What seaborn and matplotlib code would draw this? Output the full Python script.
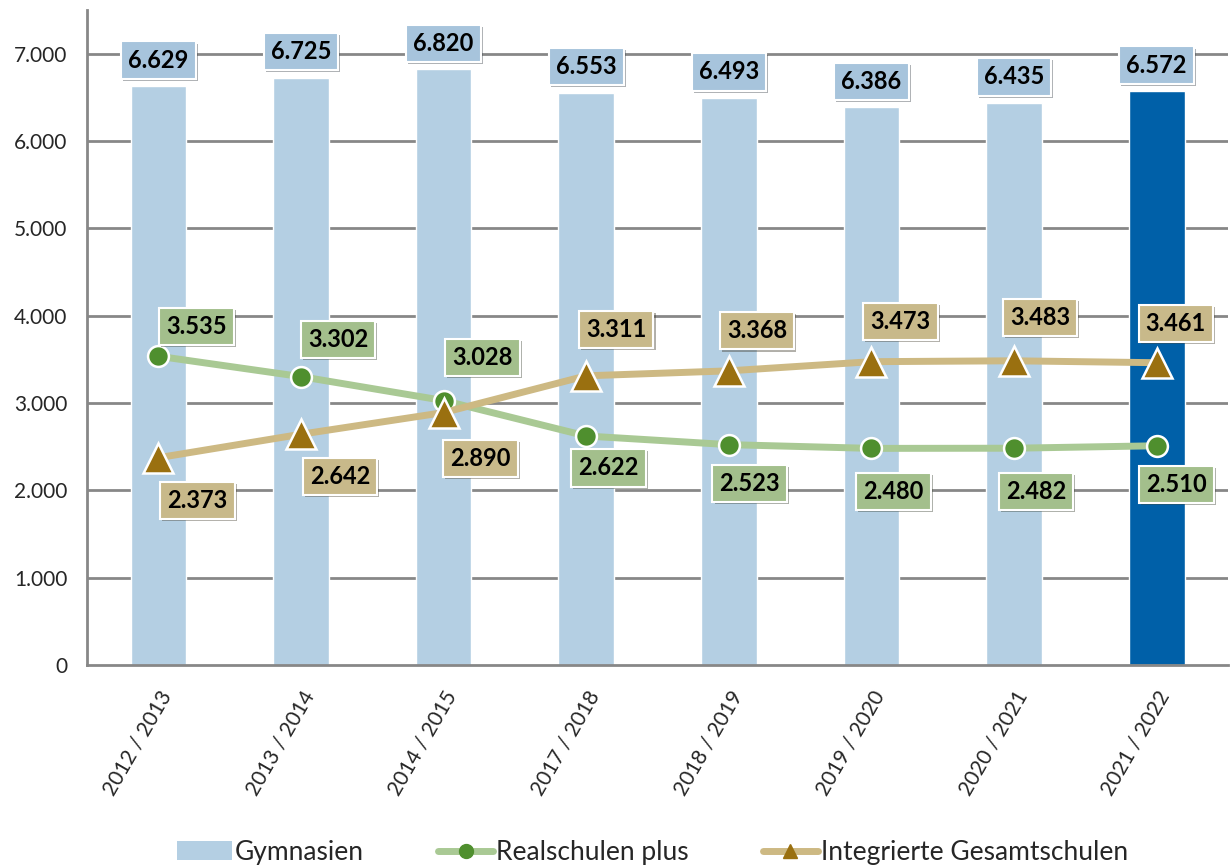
import pandas as pd
import matplotlib.pyplot as plt
import matplotlib.patheffects as pe
from matplotlib.lines import Line2D
from matplotlib.patches import Patch
from matplotlib.ticker import FuncFormatter, MultipleLocator
import seaborn as sns

# data
years = ["2012 / 2013", "2013 / 2014", "2014 / 2015", "2017 / 2018",
         "2018 / 2019", "2019 / 2020", "2020 / 2021", "2021 / 2022"]
gymnasien = [6629, 6725, 6820, 6553, 6493, 6386, 6435, 6572]
realschulen = [3535, 3302, 3028, 2622, 2523, 2480, 2482, 2510]
gesamtschulen = [2373, 2642, 2890, 3311, 3368, 3473, 3483, 3461]

# label offsets in pixels (dx, dy) relative to the point
real_off = [(38, 30), (37, 37), (39, 43), (22, -32), (21, -39), (22, -43), (22, -43), (20, -39)]
ges_off = [(39, -43), (39, -42), (37, -46), (30, 46), (28, 40), (29, 40), (26, 43), (19, 39)]

sns.set_style("white")
plt.rcParams['font.family'] = ['Lato', 'DejaVu Sans']

bar_col = "#b4cfe3"
bar_last = "#0060a8"
real_line, real_mark = "#a9c994", "#4f8f2e"
ges_line, ges_mark = "#cdb983", "#9a7010"
grey = "#878787"

df = pd.DataFrame({"Jahr": years, "Gymnasien": gymnasien,
                   "Realschulen plus": realschulen,
                   "Integrierte Gesamtschulen": gesamtschulen})
df["pos"] = range(len(df))

fig = plt.figure(figsize=(12.31, 8.68), dpi=100)
ax = fig.add_axes([0.0707, 0.2339, 0.9269, 0.7546])

palette = [bar_col] * (len(years) - 1) + [bar_last]
sns.barplot(data=df, x="Jahr", y="Gymnasien", hue="Jahr", palette=palette,
            width=0.39, legend=False, ax=ax, zorder=2, saturation=1)

sns.lineplot(x=df["pos"], y=df["Realschulen plus"], ax=ax, color=real_line,
             linewidth=5, marker="o", markersize=15, markerfacecolor=real_mark,
             markeredgecolor="white", markeredgewidth=1.8, zorder=4)
sns.lineplot(x=df["pos"], y=df["Integrierte Gesamtschulen"], ax=ax, color=ges_line,
             linewidth=5, marker="^", markersize=21, markerfacecolor=ges_mark,
             markeredgecolor="white", markeredgewidth=1.8, zorder=4)

ax.set_xlim(-0.5, len(years) - 0.5)
ax.set_ylim(0, 7500)
ax.yaxis.set_major_locator(MultipleLocator(1000))
ax.yaxis.set_major_formatter(FuncFormatter(lambda v, p: f"{int(v):,}".replace(",", ".")))
ax.set_xlabel("")
ax.set_ylabel("")

for y in range(1000, 8000, 1000):
    ax.axhline(y, color=grey, linewidth=2, zorder=1)

for s in ["top", "right"]:
    ax.spines[s].set_visible(False)
for s in ["left", "bottom"]:
    ax.spines[s].set_color(grey)
    ax.spines[s].set_linewidth(2)

ax.tick_params(axis="y", which="major", length=8, width=2, color=grey,
               direction="out", labelsize=15, pad=6)
ax.set_xticks(range(len(years)))
ax.set_xticklabels(years, rotation=60, ha="right", rotation_mode="anchor", fontsize=15)
ax.tick_params(axis="x", which="major", length=0, pad=16)
ax.set_xticks([i - 0.5 for i in range(len(years) + 1)], minor=True)
ax.tick_params(axis="x", which="minor", length=8, width=2, color=grey, direction="out")


def fmt(v):
    return f"{v:,}".replace(",", ".")


def box_label(x, y, text, dx, dy, face):
    t = ax.annotate(text, (x, y), xytext=(dx, dy), textcoords="offset pixels",
                    ha="center", va="center", fontsize=17, fontweight="bold",
                    color="black", zorder=6,
                    bbox=dict(boxstyle="square,pad=0.3", facecolor=face,
                              edgecolor="white", linewidth=1.5))
    t.get_bbox_patch().set_path_effects(
        [pe.SimplePatchShadow(offset=(1.5, -1.5), alpha=0.4), pe.Normal()])


for i, v in enumerate(gymnasien):
    box_label(i, v, fmt(v), 0, 26, "#a7c4dc")
for i, v in enumerate(realschulen):
    box_label(i, v, fmt(v), real_off[i][0], real_off[i][1], "#a3bf8c")
for i, v in enumerate(gesamtschulen):
    box_label(i, v, fmt(v), ges_off[i][0], ges_off[i][1], "#c8b98a")

handles = [
    Patch(facecolor=bar_col, edgecolor="none"),
    Line2D([], [], color=real_line, linewidth=5, marker="o", markersize=10,
           markerfacecolor=real_mark, markeredgecolor=real_mark),
    Line2D([], [], color=ges_line, linewidth=5, marker="^", markersize=10,
           markerfacecolor=ges_mark, markeredgecolor=ges_mark),
]
fig.legend(handles, ["Gymnasien", "Realschulen plus", "Integrierte Gesamtschulen"],
           loc="center", bbox_to_anchor=(0.53, 0.018), ncol=3, frameon=False,
           fontsize=19, handlelength=2.1, handletextpad=0.1, columnspacing=2.8)

plt.savefig("out.png", dpi=100)
